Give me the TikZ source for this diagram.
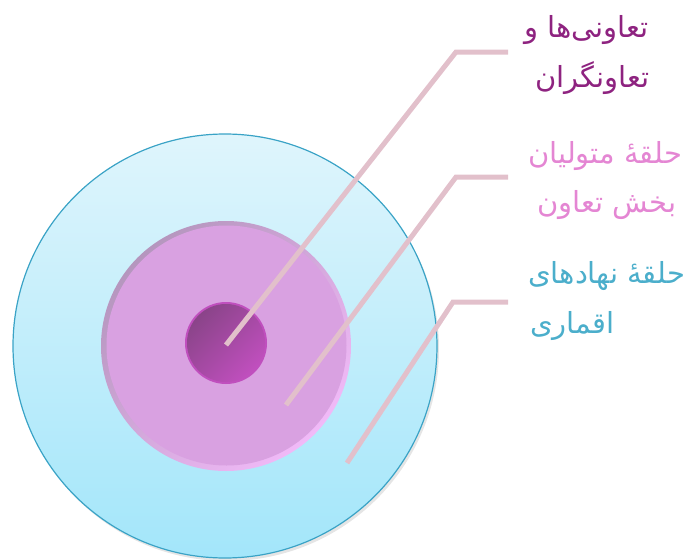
\documentclass[tikz,border=0pt]{standalone}
\usepackage{fontspec}
\newfontfamily\arabicfont[Script=Arabic]{DejaVu Sans}
\TeXXeTstate=1
\definecolor{rimblue}{HTML}{3AA3C6}
\definecolor{bluetop}{HTML}{DFF5FC}
\definecolor{bluebot}{HTML}{A3E6FA}
\definecolor{pinkmid}{HTML}{D9A1E1}
\definecolor{pinklight}{HTML}{F1BAF8}
\definecolor{pinkdark}{HTML}{B596BE}
\definecolor{purplelight}{HTML}{C04FBE}
\definecolor{purplemid}{HTML}{A44A9F}
\definecolor{purpledark}{HTML}{8A4489}
\definecolor{linkpink}{HTML}{E2C0CB}
\definecolor{txtpurple}{HTML}{8E2380}
\definecolor{txtpink}{HTML}{E486D3}
\definecolor{txtteal}{HTML}{4BAECB}
\tikzset{
  link/.style={draw=linkpink, line width=5pt, line join=miter},
  label/.style={anchor=base west, inner sep=0pt, font=\arabicfont\fontsize{29}{33}\selectfont},
}
\begin{document}
\begin{tikzpicture}[x=1pt,y=-1pt]
\useasboundingbox (0,0) rectangle (689,560);
\coordinate (c) at (225,346);
% outer ring
\fill[black!10] ([shift={(2,3)}]c) circle (212);
\shade[top color=bluetop, bottom color=bluebot] (c) circle (212);
\draw[rimblue, line width=1.2pt] (c) circle (212);
% middle ring (bevel)
\shade[shading=axis, left color=pinkdark, right color=pinklight, shading angle=45] ([shift={(1,0)}]c) circle (125);
\fill[pinkmid] ([shift={(1.5,-0.5)}]c) circle (120);
% inner disc
\fill[purplelight] ([shift={(1,-3)}]c) circle (41);
\shade[shading=axis, left color=purpledark, middle color=purplemid, right color=purplelight, shading angle=45] ([shift={(1,-3)}]c) circle (39);
% connectors
\coordinate (p1) at (226,345);
\coordinate (k1) at (456,52);
\coordinate (e1) at (508,52);
\coordinate (p2) at (286,405);
\coordinate (k2) at (456,177);
\coordinate (e2) at (508,177);
\coordinate (p3) at (347,463);
\coordinate (k3) at (453,302);
\coordinate (e3) at (508,302);
\draw[link] (p1) -- (k1) -- (e1);
\draw[link] (p2) -- (k2) -- (e2);
\draw[link] (p3) -- (k3) -- (e3);
% labels
\node[label, text=txtpurple] (t1a) at (524,37) {\beginR تعاونی‌ها و\endR};
\node[label, text=txtpurple] (t1b) at (535,87) {\beginR تعاونگران\endR};
\node[label, text=txtpink] (t2a) at (528,163) {\beginR حلقهٔ متولیان\endR};
\node[label, text=txtpink] (t2b) at (537,212) {\beginR بخش تعاون\endR};
\node[label, text=txtteal] (t3a) at (528,283) {\beginR حلقهٔ نهادهای\endR};
\node[label, text=txtteal] (t3b) at (530,333) {\beginR اقماری\endR};
\end{tikzpicture}
\end{document}
